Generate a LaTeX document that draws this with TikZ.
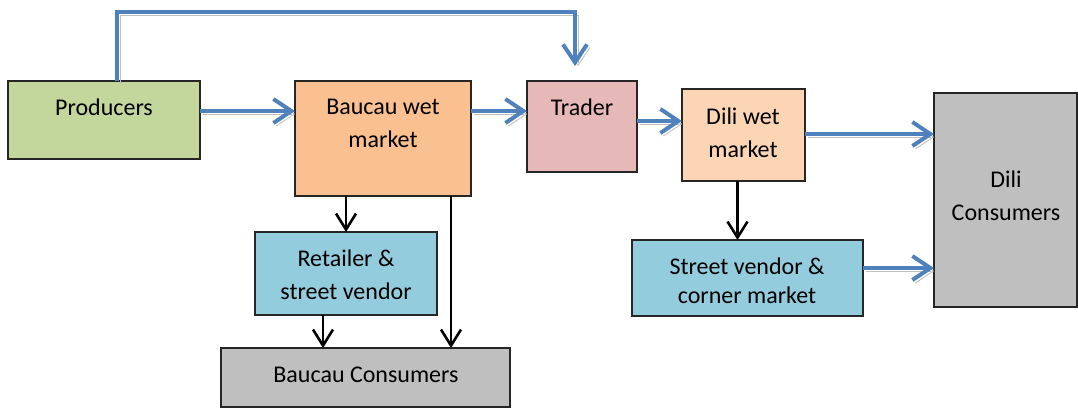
\documentclass[tikz,border=0pt]{standalone}
\usepackage{fontspec}
\setmainfont{Carlito}
\usetikzlibrary{arrows.meta}
\definecolor{prodgreen}{HTML}{C3D69B}
\definecolor{wetorange}{HTML}{FAC090}
\definecolor{traderpink}{HTML}{E6B9B8}
\definecolor{dilipeach}{HTML}{FCD5B5}
\definecolor{consgray}{HTML}{BFBFBF}
\definecolor{vendorblue}{HTML}{93CDDD}
\definecolor{flowblue}{HTML}{4F81BD}
\tikzset{
  box/.style={draw=black!85, line width=0.8pt, inner sep=0pt, outer sep=0pt, anchor=north west},
  txt/.style={align=center, font=\fontsize{12}{16.5}\selectfont},
  flow/.style={draw=flowblue, line width=2pt, -{Straight Barb[length=9pt,width=12pt]},
    preaction={draw=black!25, transform canvas={shift={(1.5pt,-1.5pt)}}}},
  sale/.style={draw=black, line width=1.3pt, -{Straight Barb[length=8pt,width=10pt]}}
}
\begin{document}
\begin{tikzpicture}[x=0.5pt,y=-0.5pt]
		\useasboundingbox (0,0) rectangle (1078,408);
		% boxes
		\node[box, fill=prodgreen, minimum width=96pt, minimum height=39pt] (prod) at (8,81) {};
		\node[box, fill=wetorange, minimum width=88pt, minimum height=57.5pt] (bwm) at (295,81) {};
		\node[box, fill=traderpink, minimum width=55pt, minimum height=45.5pt] (trader) at (527,81) {};
		\node[box, fill=dilipeach, minimum width=61.5pt, minimum height=46pt] (dwm) at (682,89) {};
		\node[box, fill=consgray, minimum width=71.5pt, minimum height=107pt] (dcons) at (934,93) {};
		\node[box, fill=vendorblue, minimum width=91pt, minimum height=41.5pt] (retail) at (255,232) {};
		\node[box, fill=vendorblue, minimum width=115.5pt, minimum height=38pt] (street) at (632,240) {};
		\node[box, fill=consgray, minimum width=144.5pt, minimum height=29.5pt] (bcons) at (221,348) {};
		% texts
		\node[txt] (prodtxt) at (104,107) {Producers};
		\node[txt] (bwmtxt) at (383,123) {Baucau wet\\market};
		\node[txt] (tradertxt) at (582,107) {Trader};
		\node[txt] (dwmtxt) at (743,133) {Dili wet\\market};
		\node[txt] (dconstxt) at (1006,196) {Dili\\Consumers};
		\node[txt] (retailtxt) at (346,275) {Retailer \&\\street vendor};
		\node[txt, font=\fontsize{12}{14.5}\selectfont] (streettxt) at (747,281) {Street vendor \&\\corner market};
		\node[txt] (bconstxt) at (366,375) {Baucau Consumers};
		% blue flows
		\coordinate (toptip) at (575,66);
		\draw[flow] ([xshift=6.5pt]prod.north) -- ++(0,-69) -| (toptip);
		\draw[flow] ([yshift=-15pt]prod.north east) -- ([yshift=-15pt]bwm.north west);
		\draw[flow] ([yshift=-15pt]bwm.north east) -- ([yshift=-15pt]trader.north west);
		\draw[flow] ([yshift=-20pt]trader.north east) -- ([yshift=-16pt]dwm.north west);
		\draw[flow] ([yshift=-22.5pt]dwm.north east) -- ([yshift=-20.5pt]dcons.north west);
		\draw[flow] ([yshift=-14pt]street.north east) -- ([yshift=-34pt]dcons.west);
		% black sales
		\draw[sale] (retail.north |- bwm.south) -- (retail.north);
		\draw[sale] ([xshift=-11.5pt]retail.south) -- ++(0,33);
		\draw[sale] ([xshift=-10pt]bwm.south east) -- ++(0,152);
		\draw[sale] ([xshift=-3pt]dwm.south) -- ++(0,59);
	\end{tikzpicture}
\end{document}
